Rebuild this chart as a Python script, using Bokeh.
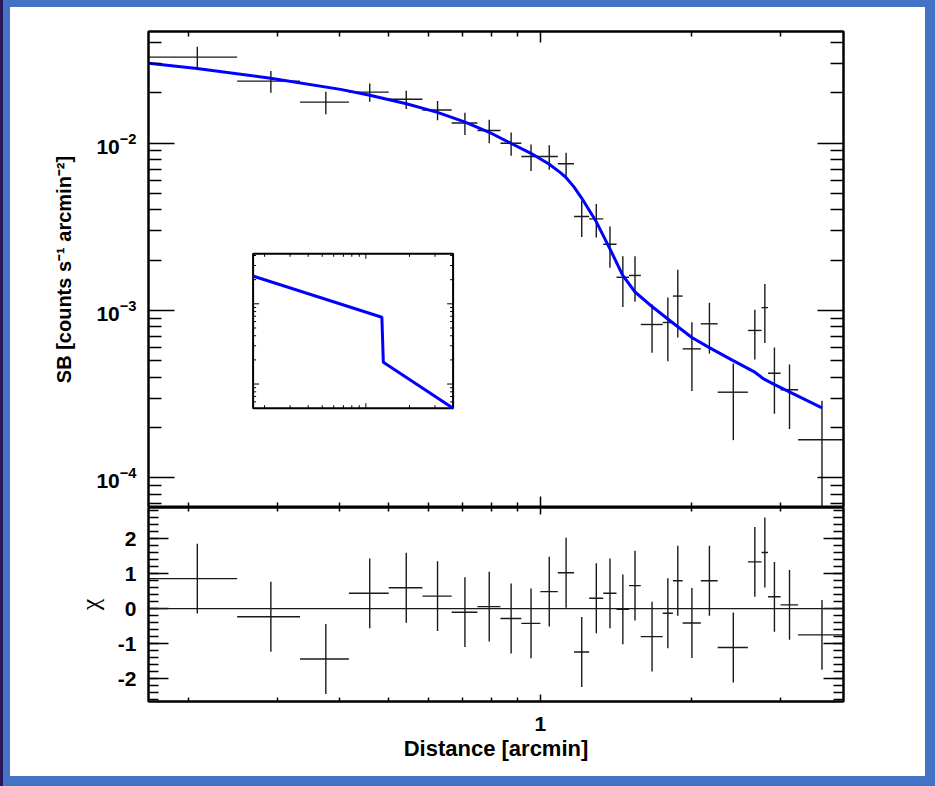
import numpy as np
from bokeh.plotting import figure
from bokeh.models import (LogAxis, LinearAxis, FixedTicker, Range1d, LogScale, Span,
                          BasicTickFormatter, LogTickFormatter)
from bokeh.layouts import column
from bokeh.embed import file_html
from bokeh.resources import INLINE

# ---------------- data ----------------
bin_lo = [0.1667, 0.25, 0.3333, 0.4167, 0.5, 0.5833, 0.6667, 0.75, 0.8333, 0.9167,
          1.0, 1.0833, 1.1667, 1.25, 1.3333, 1.4167, 1.5, 1.5833, 1.75, 1.8333,
          1.9167, 2.0833, 2.25, 2.5833, 2.75, 2.8333, 3.0, 3.25]
bin_hi = [0.25, 0.3333, 0.4167, 0.5, 0.5833, 0.6667, 0.75, 0.8333, 0.9167, 1.0,
          1.0833, 1.1667, 1.25, 1.3333, 1.4167, 1.5, 1.5833, 1.75, 1.8333, 1.9167,
          2.0833, 2.25, 2.5833, 2.75, 2.8333, 3.0, 3.25, 4.0]
sb = [0.0327, 0.0235, 0.0176, 0.0202, 0.0183, 0.0158, 0.0132, 0.0119, 0.0100, 0.00833,
      0.00833, 0.00753, 0.00365, 0.00353, 0.00249, 0.00158, 0.00162, 0.000825, 0.000848, 0.00122,
      0.00059, 0.000833, 0.000325, 0.00076, 0.00104, 0.000422, 0.000336, 0.000169]
sb_err = [0.0050, 0.0035, 0.0027, 0.0025, 0.0023, 0.0021, 0.0020, 0.0019, 0.0016, 0.0015,
          0.0014, 0.00125, 0.0009, 0.0008, 0.00069, 0.00053, 0.00049, 0.000265, 0.00035, 0.00053,
          0.00026, 0.00028, 0.000157, 0.00025, 0.0004, 0.00018, 0.00014, 0.00012]
chi = [0.86, -0.23, -1.44, 0.44, 0.60, 0.36, -0.10, 0.06, -0.28, -0.42,
       0.49, 1.03, -1.24, 0.30, 0.44, -0.02, 0.66, -0.80, -0.13, 0.80,
       -0.41, 0.80, -1.11, 1.34, 1.61, 0.34, 0.11, -0.75]
chi_err = [1.0] * 28

model_r = [0.1667, 0.208, 0.2913, 0.4009, 0.4584, 0.5421, 0.6248, 0.7071, 0.7917, 0.8757,
           0.9579, 1.042, 1.0977, 1.1265, 1.165, 1.208, 1.291, 1.3763, 1.4576, 1.5421,
           1.6643, 1.7912, 1.9991, 2.1704, 2.415, 2.667, 2.77, 2.919, 3.1307, 3.625]
model_sb = [0.03008, 0.02792, 0.02446, 0.02097, 0.01934, 0.01722, 0.01528, 0.0134, 0.01162, 0.00996,
            0.0087, 0.00748, 0.00665, 0.0062, 0.0055, 0.0047, 0.0034, 0.00232, 0.00162, 0.00129,
            0.00106, 0.00089, 0.00069, 0.000598, 0.000502, 0.000428, 0.000392, 0.000361, 0.000325,
            0.000262]

# inset: broken power-law density model
inset_r = [0.1667, 1.29, 1.32, 4.0]
inset_ne = [0.0222, 0.0068, 0.00187, 0.0005]

x_ticks_major = [1.0]
x_ticks_minor = [0.2, 0.3, 0.4, 0.5, 0.6, 0.7, 0.8, 0.9, 2.0, 3.0]
sb_ticks_major = [1e-4, 1e-3, 1e-2]
sb_ticks_minor = [7e-5, 8e-5, 9e-5, 2e-4, 3e-4, 4e-4, 5e-4, 6e-4, 7e-4, 8e-4, 9e-4,
                  2e-3, 3e-3, 4e-3, 5e-3, 6e-3, 7e-3, 8e-3, 9e-3, 2e-2, 3e-2, 4e-2]
chi_ticks_major = [-2, -1, 0, 1, 2]
chi_tick_labels = {-2: "-2", -1: "-1", 0: "0", 1: "1", 2: "2"}
chi_ticks_minor = [round(-2.6 + 0.2 * i, 1) for i in range(28)]
inset_y_major = [1e-3, 1e-2]
inset_y_minor = [6e-4, 7e-4, 8e-4, 9e-4, 2e-3, 3e-3, 4e-3, 5e-3, 6e-3, 7e-3, 8e-3, 9e-3,
                 2e-2, 3e-2, 4e-2]

# ---------------- layout constants ----------------
X_RANGE = (0.16667, 4.0)
SB_RANGE = (6.65e-5, 0.0465)
CHI_RANGE = (-2.657, 2.897)
INSET_X = (0.16667, 4.0)
INSET_Y = (5e-4, 4.2e-2)

FIG_W = 915
TOP_H = 500
BOT_H = 269
BL, BR = 138, 82
TOP_BT = 24
BOT_BB = 75
FRAME_W = FIG_W - BL - BR
FRAME_H = TOP_H - TOP_BT
INSET_LEFT, INSET_TOP, INSET_W, INSET_H = 104.6, 222.3, 200.0, 154.4

FONT = "Liberation Sans"
INK = "#1a1a1a"
BLUE = "#0000ff"
FRAME_BLUE = "#4472c4"

x_lo = np.array(bin_lo)
x_hi = np.array(bin_hi)
x_c = (x_lo + x_hi) / 2.0
sb_a = np.array(sb)
sbe = np.array(sb_err)
chi_a = np.array(chi)
chie = np.array(chi_err)


def style_axis(ax, major_in, minor_in, labels, standoff=12):
    ax.major_tick_in = major_in
    ax.major_tick_out = 0
    ax.minor_tick_in = minor_in
    ax.minor_tick_out = 0
    ax.axis_line_width = 2
    ax.axis_line_color = "black"
    ax.major_tick_line_width = 1.5
    ax.minor_tick_line_width = 1.5
    ax.major_tick_line_color = "black"
    ax.minor_tick_line_color = "black"
    if labels:
        ax.major_label_text_font = FONT
        ax.major_label_text_font_style = "bold"
        ax.major_label_text_font_size = "21px"
        ax.major_label_text_color = "black"
        ax.major_label_standoff = standoff
    else:
        ax.formatter = BasicTickFormatter()
        ax.major_label_text_font_size = "1px"
        ax.major_label_text_alpha = 0
        ax.major_label_standoff = 0


def set_title(ax, text, size, standoff, font=FONT, style="bold"):
    ax.axis_label = text
    ax.axis_label_text_font = font
    ax.axis_label_text_font_style = style
    ax.axis_label_text_font_size = size
    ax.axis_label_text_color = "black"
    ax.axis_label_standoff = standoff


def base_fig(h, y_type, y_range, bt, bb, margin):
    p = figure(width=FIG_W, height=h, x_axis_type="log", y_axis_type=y_type,
               x_range=Range1d(*X_RANGE), y_range=Range1d(*y_range),
               x_axis_location=None, y_axis_location=None,
               output_backend="svg", toolbar_location=None,
               min_border_left=BL, min_border_right=BR,
               min_border_top=bt, min_border_bottom=bb, margin=margin)
    p.grid.visible = False
    p.outline_line_color = "black"
    p.outline_line_width = 2
    p.background_fill_color = "white"
    p.border_fill_color = "white"
    return p


# ---------------- top panel ----------------
top = base_fig(TOP_H, "log", SB_RANGE, TOP_BT, 0, (7, 10, 0, 10))

x_tk = FixedTicker(ticks=x_ticks_major, minor_ticks=x_ticks_minor)
for loc in ("above", "below"):
    ax = LogAxis(ticker=x_tk)
    style_axis(ax, 11, 5, False)
    top.add_layout(ax, loc)

yl = LogAxis(ticker=FixedTicker(ticks=sb_ticks_major, minor_ticks=sb_ticks_minor),
             formatter=LogTickFormatter())
style_axis(yl, 26, 13, True)
set_title(yl, "SB [counts s\u207b\u00b9 arcmin\u207b\u00b2]", "20px", 18)
top.add_layout(yl, "left")
yr = LogAxis(ticker=FixedTicker(ticks=sb_ticks_major, minor_ticks=sb_ticks_minor))
style_axis(yr, 26, 13, False)
top.add_layout(yr, "right")

# inset (drawn through its own log scales, placed inside the frame)
sx = (np.log10(INSET_X[1]) - np.log10(INSET_X[0])) / INSET_W
sy = (np.log10(INSET_Y[1]) - np.log10(INSET_Y[0])) / INSET_H
ix_start = 10 ** (np.log10(INSET_X[0]) - INSET_LEFT * sx)
ix_end = 10 ** (np.log10(INSET_X[0]) + (FRAME_W - INSET_LEFT) * sx)
iy_end = 10 ** (np.log10(INSET_Y[1]) + INSET_TOP * sy)
iy_start = 10 ** (np.log10(INSET_Y[0]) - (FRAME_H - INSET_TOP - INSET_H) * sy)
top.extra_x_ranges = {"ix": Range1d(ix_start, ix_end)}
top.extra_y_ranges = {"iy": Range1d(iy_start, iy_end)}
top.extra_x_scales = {"ix": LogScale()}
top.extra_y_scales = {"iy": LogScale()}

top.quad(left=[INSET_X[0]], right=[INSET_X[1]], bottom=[INSET_Y[0]], top=[INSET_Y[1]],
         fill_color="white", line_color="black", line_width=2,
         x_range_name="ix", y_range_name="iy")

# inset tick marks
tx0, tx1, ty0, ty1 = [], [], [], []
for v, L in [(t, 3.0) for t in x_ticks_minor] + [(t, 5.0) for t in x_ticks_major]:
    for yb, sgn in ((INSET_Y[1], -1), (INSET_Y[0], 1)):
        tx0.append(v); tx1.append(v)
        ty0.append(yb); ty1.append(10 ** (np.log10(yb) + sgn * L * sy))
for v, L in [(t, 3.0) for t in inset_y_minor] + [(t, 6.0) for t in inset_y_major]:
    for xb, sgn in ((INSET_X[0], 1), (INSET_X[1], -1)):
        tx0.append(xb); tx1.append(10 ** (np.log10(xb) + sgn * L * sx))
        ty0.append(v); ty1.append(v)
top.segment(x0=tx0, y0=ty0, x1=tx1, y1=ty1, line_color="black", line_width=1,
            x_range_name="ix", y_range_name="iy")
top.line(inset_r, inset_ne, line_color=BLUE, line_width=3,
         x_range_name="ix", y_range_name="iy")

# data crosses and model
top.segment(x0=x_lo, y0=sb_a, x1=x_hi, y1=sb_a, line_color=INK, line_width=1.4)
top.segment(x0=x_c, y0=np.maximum(sb_a - sbe, 1e-6), x1=x_c, y1=sb_a + sbe,
            line_color=INK, line_width=1.4)
top.line(model_r, model_sb, line_color=BLUE, line_width=3, line_join="round")

# ---------------- bottom (chi) panel ----------------
bot = base_fig(BOT_H, "linear", CHI_RANGE, 0, BOT_BB, (0, 10, 10, 10))

xa = LogAxis(ticker=x_tk)
style_axis(xa, 7, 4, False)
bot.add_layout(xa, "above")
xb = LogAxis(ticker=x_tk)
style_axis(xb, 7, 4, True, standoff=15)
xb.formatter = BasicTickFormatter()
set_title(xb, "Distance [arcmin]", "22px", 2)
bot.add_layout(xb, "below")

c_tk = FixedTicker(ticks=chi_ticks_major, minor_ticks=chi_ticks_minor)
cl = LinearAxis(ticker=c_tk)
style_axis(cl, 20, 10, True)
cl.major_label_overrides = chi_tick_labels
set_title(cl, "\u03c7", "26px", 10, font="Liberation Serif", style="normal")
bot.add_layout(cl, "left")
cr = LinearAxis(ticker=c_tk)
style_axis(cr, 20, 10, False)
bot.add_layout(cr, "right")

bot.add_layout(Span(location=0, dimension="width", line_color=INK, line_width=1.3))
bot.segment(x0=x_lo, y0=chi_a, x1=x_hi, y1=chi_a, line_color=INK, line_width=1.4)
bot.segment(x0=x_c, y0=chi_a - chie, x1=x_c, y1=chi_a + chie, line_color=INK, line_width=1.4)

frame_css = {
    "background": "white",
    "box-shadow": ("inset 3px 0 0 #2a1656, inset 10px 0 0 %s, inset -10px 0 0 %s, "
                   "inset 0 7px 0 %s, inset 0 -10px 0 %s") % ((FRAME_BLUE,) * 4),
}
layout = column(top, bot, spacing=0, styles=frame_css)

open("out.html", "w").write(file_html(layout, INLINE))
